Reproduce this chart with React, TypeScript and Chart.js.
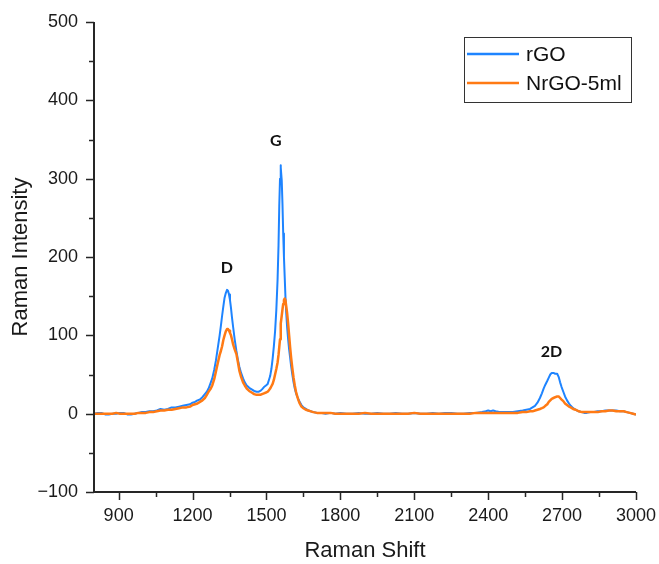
import React, { useEffect, useRef } from 'react';
import { Chart, registerables } from 'chart.js';

Chart.register(...registerables);

// ---- data ----
const ramanShift = [
  800, 815, 830, 845, 860, 875, 890, 905, 920, 935, 950, 965, 980, 995, 1010, 1025, 1040, 1055, 1070, 1085,
  1100, 1115, 1130, 1145, 1160, 1175, 1190, 1200, 1210, 1220, 1230, 1240, 1250, 1258, 1265, 1272, 1280, 1288,
  1295, 1302, 1310, 1315, 1320, 1325, 1330, 1335, 1340, 1344, 1348, 1352, 1356, 1360, 1365, 1371, 1378, 1384,
  1390, 1397, 1405, 1412, 1420, 1430, 1440, 1450, 1460, 1468, 1475, 1482, 1490, 1498, 1505, 1510, 1515, 1520,
  1525, 1530, 1535, 1540, 1545, 1549, 1552, 1555, 1557, 1559, 1562, 1565, 1568, 1571, 1574, 1577, 1580, 1584,
  1588, 1592, 1596, 1600, 1605, 1610, 1615, 1620, 1625, 1630, 1635, 1642, 1650, 1660, 1670, 1680, 1690, 1705,
  1720, 1740, 1760, 1780, 1800, 1825, 1850, 1875, 1900, 1925, 1950, 1975, 2000, 2025, 2050, 2075, 2100, 2125,
  2150, 2175, 2200, 2225, 2250, 2275, 2300, 2325, 2350, 2375, 2390, 2400, 2410, 2420, 2430, 2445, 2460, 2480,
  2500, 2520, 2540, 2555, 2570, 2580, 2590, 2600, 2610, 2618, 2625, 2632, 2640, 2646, 2652, 2658, 2665, 2672,
  2680, 2686, 2692, 2698, 2705, 2712, 2720, 2728, 2735, 2745, 2755, 2768, 2780, 2790, 2800, 2815, 2830, 2845,
  2860, 2875, 2890, 2905, 2920, 2935, 2950, 2962, 2975, 2988, 3000,
];

const rGO = [
  0, 1, 1, -1, -1, 0, 0, 1, 1, -1, -1, 0, 1, 2, 2, 3, 3, 4, 6, 5,
  6, 8, 8, 9, 10, 11, 12, 14, 15, 17, 18, 21, 25, 28, 32, 38, 45, 56,
  68, 83, 100, 112, 125, 137, 148, 154, 158, 157, 152, 145, 135, 123, 110, 95, 80, 69,
  60, 52, 45, 40, 36, 33, 31, 29, 28, 28, 29, 31, 34, 36, 38, 43, 48, 57,
  70, 86, 105, 132, 170, 215, 265, 300, 317, 314, 298, 268, 230, 200, 175, 150, 130, 110,
  95, 82, 72, 61, 50, 40, 32, 26, 22, 18, 15, 11, 8, 6, 4, 3, 2, 1,
  1, 0, 1, 0, 1, 0, 0, 1, 0, 0, 1, 0, 0, 1, 0, 0, 1, 0,
  0, 1, 0, 1, 1, 0, 0, 1, 1, 2, 3, 4, 3, 4, 3, 2, 2, 2,
  2, 3, 4, 5, 6, 8, 10, 14, 20, 26, 32, 37, 42, 46, 50, 52, 52, 51,
  51, 47, 40, 34, 28, 22, 17, 13, 10, 7, 5, 3, 2, 1, 1, 2, 2, 3,
  3, 4, 4, 4, 4, 3, 3, 2, 1, 0, -1,
];

const nrGO5ml = [
  0, 0, 0, 0, 0, 0, 1, 0, 0, 0, 0, 0, 1, 1, 1, 2, 2, 3, 4, 4,
  5, 5, 6, 7, 8, 8, 9, 11, 12, 13, 15, 17, 20, 24, 28, 31, 36, 44,
  54, 64, 75, 80, 86, 94, 100, 105, 108, 108, 106, 103, 100, 95, 88, 82, 76, 66,
  55, 47, 40, 36, 32, 29, 27, 25, 24, 24, 24, 25, 26, 27, 28, 30, 32, 35,
  38, 43, 50, 57, 65, 75, 85, 95, 105, 115, 125, 133, 140, 145, 147, 145, 138, 128,
  115, 100, 85, 72, 58, 46, 36, 28, 22, 17, 13, 9, 7, 5, 4, 3, 2, 1,
  1, 1, 1, 0, 0, 0, 0, 0, 1, 0, 0, 0, 0, 0, 0, 0, 1, 0,
  0, 0, 0, 0, 0, 0, 0, 0, 1, 1, 1, 1, 1, 1, 1, 1, 1, 1,
  1, 1, 2, 2, 3, 3, 4, 5, 6, 7, 8, 10, 12, 15, 17, 19, 20, 21,
  22, 22, 20, 18, 16, 13, 11, 9, 8, 6, 5, 3, 2, 2, 2, 2, 2, 2,
  3, 3, 4, 4, 3, 3, 3, 2, 1, 0, -1,
];

const seriesNames = ['rGO', 'NrGO-5ml'];
const xTicks = [900, 1200, 1500, 1800, 2100, 2400, 2700, 3000];
const xMinorTicks = [1050, 1350, 1650, 1950, 2250, 2550, 2850];
const yTicks = [-100, 0, 100, 200, 300, 400, 500];
const yMinorTicks = [-50, 50, 150, 250, 350, 450];
const peakNames = ['D', 'G', '2D'];
const peakShift = [1339, 1538, 2657];
const peakHeight = [186, 348, 79];

const BLUE = 'rgb(30,132,255)';
const ORANGE = 'rgb(255,122,20)';
const FONT = '"Liberation Sans", Arial, sans-serif';
const AXIS = '#262626';

const decor = {
  id: 'decor',
  afterDraw(chart: any) {
    const { ctx, chartArea: a } = chart;
    const x = chart.scales.x;
    const y = chart.scales.y;
    ctx.save();
    // axes
    ctx.strokeStyle = AXIS;
    ctx.lineWidth = 2;
    ctx.beginPath();
    ctx.moveTo(a.left, a.top);
    ctx.lineTo(a.left, a.bottom);
    ctx.lineTo(a.right, a.bottom);
    ctx.stroke();
    ctx.lineWidth = 1.5;
    ctx.beginPath();
    yTicks.forEach((v) => {
      const p = Math.round(y.getPixelForValue(v)) + 0.5;
      ctx.moveTo(a.left, p);
      ctx.lineTo(a.left - 8, p);
    });
    yMinorTicks.forEach((v) => {
      const p = Math.round(y.getPixelForValue(v)) + 0.5;
      ctx.moveTo(a.left, p);
      ctx.lineTo(a.left - 5, p);
    });
    xTicks.forEach((v) => {
      const p = Math.round(x.getPixelForValue(v)) + 0.5;
      ctx.moveTo(p, a.bottom);
      ctx.lineTo(p, a.bottom + 8);
    });
    xMinorTicks.forEach((v) => {
      const p = Math.round(x.getPixelForValue(v)) + 0.5;
      ctx.moveTo(p, a.bottom);
      ctx.lineTo(p, a.bottom + 5);
    });
    ctx.stroke();

    // axis titles
    ctx.fillStyle = '#1a1a1a';
    ctx.font = `22px ${FONT}`;
    ctx.textAlign = 'center';
    ctx.textBaseline = 'middle';
    ctx.fillText('Raman Shift', (a.left + a.right) / 2, 551);
    ctx.save();
    ctx.translate(21, (a.top + a.bottom) / 2);
    ctx.rotate(-Math.PI / 2);
    ctx.fillText('Raman Intensity', 0, 0);
    ctx.restore();

    // peak annotations
    ctx.font = `bold 16px Lato, "Open Sans", sans-serif`;
    ctx.fillStyle = '#111';
    peakNames.forEach((n, i) => {
      ctx.fillText(n, x.getPixelForValue(peakShift[i]), y.getPixelForValue(peakHeight[i]));
    });

    // legend
    ctx.strokeStyle = '#333';
    ctx.lineWidth = 1;
    ctx.strokeRect(464.5, 37.5, 167, 65);
    const colors = [BLUE, ORANGE];
    const rows = [54, 83];
    ctx.font = `21px ${FONT}`;
    ctx.textAlign = 'left';
    seriesNames.forEach((n, i) => {
      ctx.strokeStyle = colors[i];
      ctx.lineWidth = 2.5;
      ctx.beginPath();
      ctx.moveTo(467, rows[i]);
      ctx.lineTo(519, rows[i]);
      ctx.stroke();
      ctx.fillStyle = '#111';
      ctx.fillText(n, 526, rows[i] + 1);
    });
    ctx.restore();
  },
};

export default function App() {
  const ref = useRef<HTMLCanvasElement>(null);
  useEffect(() => {
    if (!ref.current) return;
    const chart = new Chart(ref.current, {
      type: 'line',
      data: {
        datasets: [
          {
            label: seriesNames[0],
            data: ramanShift.map((v, i) => ({ x: v, y: rGO[i] })),
            borderColor: BLUE,
            borderWidth: 2,
            borderJoinStyle: 'round',
            pointRadius: 0,
            tension: 0,
            order: 1,
          },
          {
            label: seriesNames[1],
            data: ramanShift.map((v, i) => ({ x: v, y: nrGO5ml[i] })),
            borderColor: ORANGE,
            borderWidth: 2.5,
            borderJoinStyle: 'round',
            pointRadius: 0,
            tension: 0,
            order: 0,
          },
        ],
      },
      options: {
        responsive: false,
        animation: false,
        events: [],
        layout: { padding: { top: 22, right: 23, left: 0, bottom: 0 } },
        plugins: { legend: { display: false }, tooltip: { enabled: false } },
        scales: {
          x: {
            type: 'linear',
            min: 800,
            max: 3000,
            afterFit: (s: any) => {
              s.height = 72;
              s.paddingLeft = 0;
              s.paddingRight = 0;
            },
            afterBuildTicks: (s: any) => {
              s.ticks = xTicks.map((v) => ({ value: v }));
            },
            grid: { display: true, drawOnChartArea: false, drawTicks: true, tickLength: 8, color: 'rgba(0,0,0,0)' },
            border: { display: false },
            ticks: {
              padding: 5,
              color: '#1a1a1a',
              font: { family: FONT, size: 18 },
              maxRotation: 0,
              autoSkip: false,
              callback: (v: any) => String(v),
            },
          },
          y: {
            type: 'linear',
            min: -100,
            max: 500,
            afterFit: (s: any) => {
              s.width = 94;
              s.paddingTop = 0;
              s.paddingBottom = 0;
            },
            afterBuildTicks: (s: any) => {
              s.ticks = yTicks.map((v) => ({ value: v }));
            },
            grid: { display: true, drawOnChartArea: false, drawTicks: true, tickLength: 8, color: 'rgba(0,0,0,0)' },
            border: { display: false },
            ticks: {
              padding: 8,
              color: '#1a1a1a',
              font: { family: FONT, size: 18 },
              autoSkip: false,
              callback: (v: any) => (v < 0 ? '\u2212' + Math.abs(v) : String(v)),
            },
          },
        },
      },
      plugins: [decor],
    });
    return () => chart.destroy();
  }, []);
  return (
    <div style={{ position: 'fixed', left: 0, top: 0, width: 659, height: 564, background: '#fff' }}>
      <canvas ref={ref} width={659} height={564} style={{ display: 'block' }} />
    </div>
  );
}
